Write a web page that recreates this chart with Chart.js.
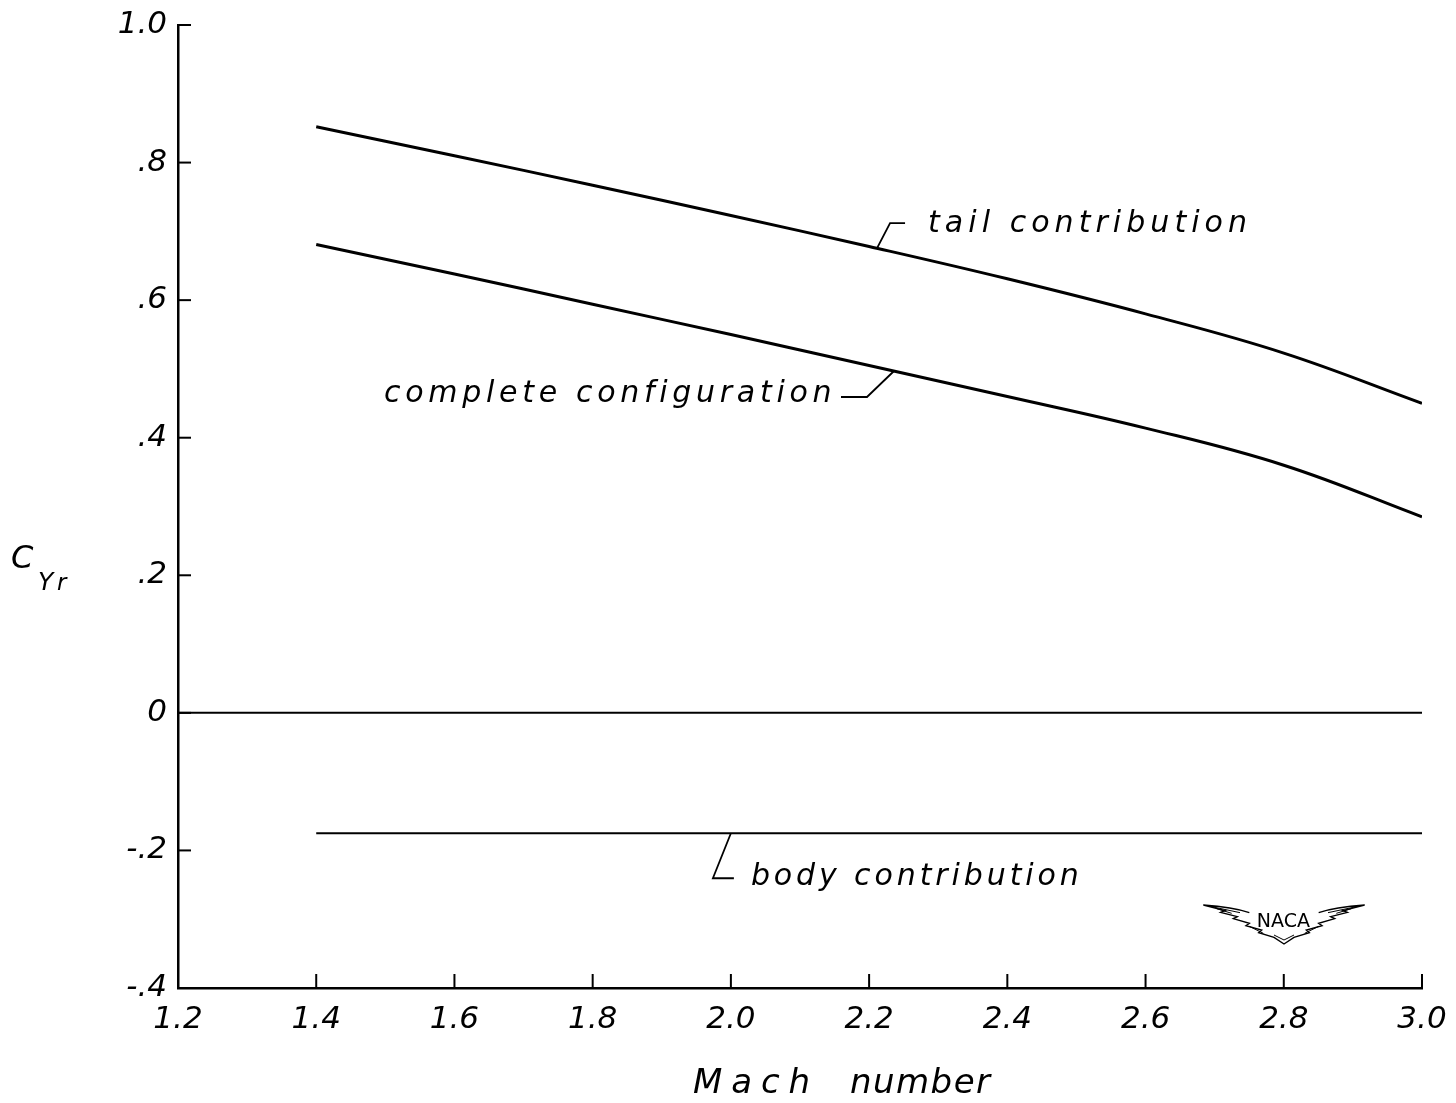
<!DOCTYPE html>
<html>
<head>
<meta charset="utf-8">
<script src="https://cdn.jsdelivr.net/npm/chart.js@4/dist/chart.umd.min.js"></script>
<style>
  html, body { margin: 0; padding: 0; background: #fff; }
  #wrap { width: 1456px; height: 1103px; }
</style>
</head>
<body>
<div id="wrap"><canvas id="c" width="1456" height="1103"></canvas></div>
<script>
// Side-force derivative vs. Mach number
const machNumbers = [1.4, 1.6, 1.8, 2.0, 2.2, 2.4, 2.6, 2.8, 3.0];
const tailContribution = [0.852, 0.810, 0.767, 0.723, 0.678, 0.631, 0.580, 0.523, 0.450];
const completeConfiguration = [0.681, 0.638, 0.594, 0.550, 0.505, 0.460, 0.414, 0.360, 0.285];
const bodyContribution = [-0.175, -0.175, -0.175, -0.175, -0.175, -0.175, -0.175, -0.175, -0.175];

const xTickValues = [1.2, 1.4, 1.6, 1.8, 2.0, 2.2, 2.4, 2.6, 2.8, 3.0];
const xTickLabels = ['1.2', '1.4', '1.6', '1.8', '2.0', '2.2', '2.4', '2.6', '2.8', '3.0'];
const yTickValues = [-0.4, -0.2, 0, 0.2, 0.4, 0.6, 0.8, 1.0];
const yTickLabels = ['-.4', '-.2', '0', '.2', '.4', '.6', '.8', '1.0'];

const FONT = '"DejaVu Sans", "Liberation Sans", sans-serif';
const INK = '#000';

function toPoints(ys) {
  return machNumbers.map((x, i) => ({ x: x, y: ys[i] }));
}

// Curve labels with their leader lines, anchored on a point of the curve (pixel offsets from it)
const curveLabels = [
  { text: 'tail contribution', at: [2.2115, 0.6756], leader: [[0, 0], [13, -25], [28, -25]], textAt: [51, -16], width: 319 },
  { text: 'complete configuration', at: [2.236, 0.497], leader: [[0, 0], [-27, 26], [-53, 26]], textAt: [-510, 31], width: 448 },
  { text: 'body contribution', at: [2.0, -0.175], leader: [[0, 0], [-18, 45], [3, 45]], textAt: [20, 52], width: 328 }
];

// draw a string stretched by letter spacing to a given overall width
function fitText(ctx, text, x, y, width) {
  ctx.letterSpacing = '0px';
  const w = ctx.measureText(text).width;
  const sp = Math.max(0, (width - w) / Math.max(1, text.length - 1));
  ctx.letterSpacing = sp.toFixed(2) + 'px';
  ctx.fillText(text, x, y);
  ctx.letterSpacing = '0px';
}

const decorations = {
  id: 'decorations',
  afterDatasetsDraw(chart) {
    const ctx = chart.ctx;
    const xs = chart.scales.x, ys = chart.scales.y;
    const area = chart.chartArea;
    ctx.save();
    ctx.strokeStyle = INK;
    ctx.fillStyle = INK;
    ctx.lineCap = 'butt';

    // zero line
    const y0 = ys.getPixelForValue(0);
    ctx.lineWidth = 2;
    ctx.beginPath();
    ctx.moveTo(area.left, y0);
    ctx.lineTo(area.right, y0);
    ctx.stroke();

    // inward tick marks
    ctx.lineWidth = 2;
    yTickValues.forEach(v => {
      const p = ys.getPixelForValue(v);
      ctx.beginPath();
      ctx.moveTo(area.left, p);
      ctx.lineTo(area.left + 13, p);
      ctx.stroke();
    });
    xTickValues.forEach(v => {
      const p = xs.getPixelForValue(v);
      ctx.beginPath();
      ctx.moveTo(p, area.bottom);
      ctx.lineTo(p, area.bottom - 14);
      ctx.stroke();
    });

    // curve labels
    ctx.textAlign = 'left';
    ctx.textBaseline = 'alphabetic';
    curveLabels.forEach(l => {
      const ax = xs.getPixelForValue(l.at[0]);
      const ay = ys.getPixelForValue(l.at[1]);
      ctx.lineWidth = 1.8;
      ctx.beginPath();
      l.leader.forEach((pt, i) => {
        if (i === 0) ctx.moveTo(ax + pt[0], ay + pt[1]);
        else ctx.lineTo(ax + pt[0], ay + pt[1]);
      });
      ctx.stroke();
      ctx.font = 'italic 30px ' + FONT;
      fitText(ctx, l.text, ax + l.textAt[0], ay + l.textAt[1], l.width);
    });

    // axis titles
    ctx.font = 'italic 34px ' + FONT;
    fitText(ctx, 'Mach', 693, 1093, 117);
    fitText(ctx, 'number', 850, 1093, 140);

    ctx.font = 'italic 32px ' + FONT;
    ctx.fillText('C', 11, 568);
    ctx.font = 'italic 25px ' + FONT;
    ctx.fillText('Y', 38, 590);
    ctx.font = 'italic 23px ' + FONT;
    ctx.fillText('r', 57, 590);

    // NACA wings emblem
    const P = (zx, zy) => [1150 + zx / 3, 880 + zy / 3];
    const lowerLeft = [[160, 75], [225, 92], [212, 97], [262, 110], [250, 116], [298, 130], [288, 137], [335, 150], [326, 158], [372, 172], [402, 192]];
    const lowerRight = lowerLeft.slice().reverse().map(p => [804 - p[0], p[1]]);
    const outline = lowerLeft.concat(lowerRight.slice(1));
    ctx.lineWidth = 1.4;
    ctx.beginPath();
    outline.forEach((p, i) => {
      const q = P(p[0], p[1]);
      if (i === 0) ctx.moveTo(q[0], q[1]); else ctx.lineTo(q[0], q[1]);
    });
    const tipL = P(160, 75), tipR = P(644, 75), inL = P(298, 98), inR = P(506, 98);
    // upper edges of both wings run in to the lettering
    ctx.moveTo(tipL[0], tipL[1]);
    ctx.quadraticCurveTo(1203 + 30, 907, inL[0], inL[1]);
    ctx.moveTo(tipR[0], tipR[1]);
    ctx.quadraticCurveTo(1365 - 30, 907, inR[0], inR[1]);
    ctx.stroke();
    // feather strokes
    ctx.lineWidth = 1;
    [[[185, 80], [270, 98]], [[200, 86], [245, 100]], [[619, 80], [534, 98]], [[604, 86], [559, 100]],
     [[300, 140], [340, 160]], [[504, 140], [464, 160]], [[372, 165], [402, 180]], [[432, 165], [402, 180]]].forEach(s => {
      const a = P(s[0][0], s[0][1]), b = P(s[1][0], s[1][1]);
      ctx.beginPath(); ctx.moveTo(a[0], a[1]); ctx.lineTo(b[0], b[1]); ctx.stroke();
    });
    ctx.font = '19px ' + FONT;
    ctx.textAlign = 'center';
    const tc = P(400, 140);
    ctx.fillText('NACA', tc[0], tc[1]);
    ctx.restore();
  }
};

const lineStyle = {
  borderColor: INK,
  backgroundColor: INK,
  pointRadius: 0,
  fill: false,
  tension: 0.4
};

new Chart(document.getElementById('c'), {
  type: 'line',
  data: {
    datasets: [
      Object.assign({ label: 'tail contribution', data: toPoints(tailContribution), borderWidth: 3 }, lineStyle),
      Object.assign({ label: 'complete configuration', data: toPoints(completeConfiguration), borderWidth: 3 }, lineStyle),
      Object.assign({ label: 'body contribution', data: toPoints(bodyContribution), borderWidth: 2.2 }, lineStyle)
    ]
  },
  options: {
    responsive: false,
    animation: false,
    devicePixelRatio: 1,
    layout: { padding: { top: 25, right: 34, left: 0, bottom: 0 } },
    plugins: { legend: { display: false }, tooltip: { enabled: false } },
    scales: {
      x: {
        type: 'linear',
        min: 1.2,
        max: 3.0,
        afterBuildTicks: s => { s.ticks = xTickValues.map(v => ({ value: v })); },
        afterFit: s => { s.height = 115; },
        grid: { display: false },
        border: { display: true, color: INK, width: 2.5 },
        ticks: {
          autoSkip: false,
          maxRotation: 0,
          padding: 5,
          color: INK,
          font: { family: FONT, size: 31, style: 'italic' },
          callback: (v, i) => xTickLabels[i]
        }
      },
      y: {
        type: 'linear',
        min: -0.4,
        max: 1.0,
        afterBuildTicks: s => { s.ticks = yTickValues.map(v => ({ value: v })); },
        afterFit: s => { s.width = 178; },
        grid: { display: false },
        border: { display: true, color: INK, width: 2.5 },
        ticks: {
          padding: 3,
          color: INK,
          font: { family: FONT, size: 31, style: 'italic' },
          callback: (v, i) => yTickLabels[i]
        }
      }
    }
  },
  plugins: [decorations]
});
</script>
</body>
</html>
